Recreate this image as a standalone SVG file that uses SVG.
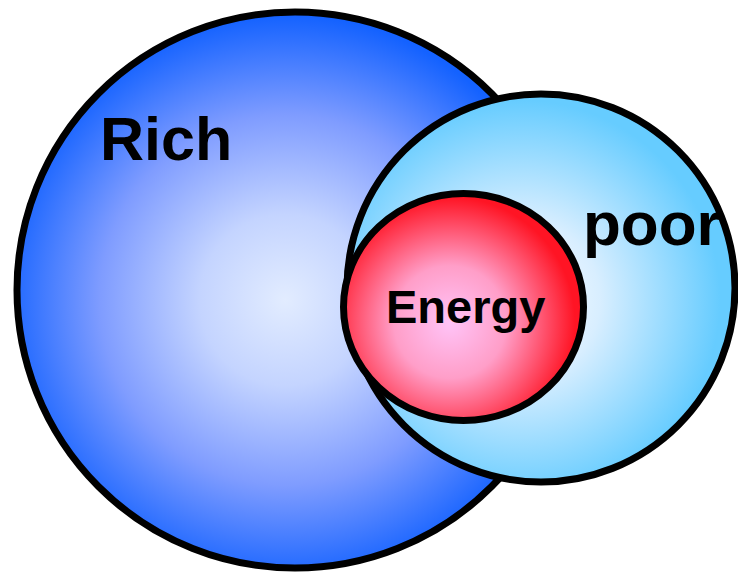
<svg xmlns="http://www.w3.org/2000/svg" width="738" height="574" viewBox="0 0 738 574">
<defs>
<radialGradient id="gBlue" cx="285" cy="300" r="285" gradientUnits="userSpaceOnUse">
<stop offset="0" stop-color="#e2ecff"/>
<stop offset="0.3" stop-color="#c4d4ff"/>
<stop offset="0.65" stop-color="#7f9cff"/>
<stop offset="1" stop-color="#1462ff"/>
</radialGradient>
<radialGradient id="gLight" cx="520" cy="300" r="200" gradientUnits="userSpaceOnUse">
<stop offset="0" stop-color="#ffffff"/>
<stop offset="0.4" stop-color="#d8eeff"/>
<stop offset="1" stop-color="#66ccff"/>
</radialGradient>
<radialGradient id="gRed" cx="450" cy="322" r="125" gradientUnits="userSpaceOnUse">
<stop offset="0" stop-color="#ffc4f8"/>
<stop offset="0.45" stop-color="#ff9ec8"/>
<stop offset="1" stop-color="#ff1424"/>
</radialGradient>
<style>
.c{stroke:#000;stroke-width:7}
.t{font-family:"Liberation Sans",Arial,sans-serif;font-weight:bold;fill:#000}
</style>
</defs>
<g id="rich">
<circle class="c" cx="295" cy="290" r="278" fill="url(#gBlue)"/>
<text class="t" x="100" y="160" font-size="61">Rich</text>
</g>
<g id="poor">
<circle class="c" cx="541" cy="288" r="194" fill="url(#gLight)"/>
<text class="t" x="583" y="245" font-size="62">poor</text>
</g>
<g id="energy">
<ellipse class="c" cx="463.5" cy="307" rx="120" ry="113.5" fill="url(#gRed)"/>
<text class="t" x="386" y="323" font-size="47">Energy</text>
</g>
<g id="connectors"/>
</svg>
